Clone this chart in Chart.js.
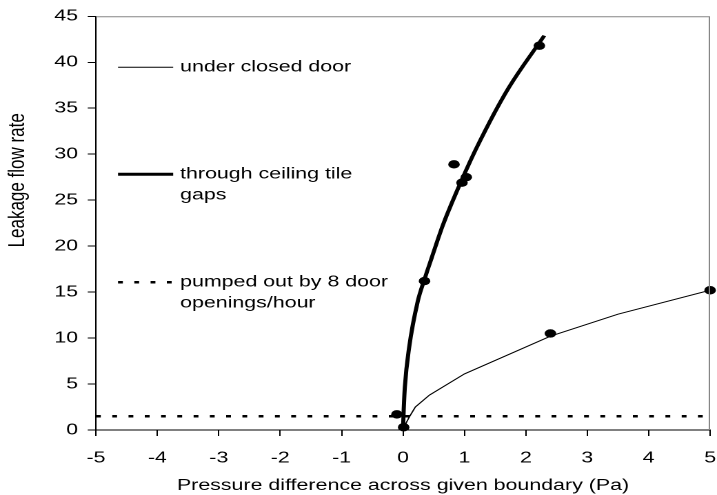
<!DOCTYPE html>
<html>
<head>
<meta charset="utf-8">
<script src="https://cdn.jsdelivr.net/npm/chart.js@4"></script>
<style>
  body { margin: 0; background: #fff; }
  #wrap { width: 717px; height: 495px; overflow: hidden; }
  /* the original picture is stretched sideways, so draw narrow and widen */
  #leakChart { transform: scaleX(1.3788); transform-origin: 0 0; }
</style>
</head>
<body>
<div id="wrap"><canvas id="leakChart" width="520" height="495"></canvas></div>
<script>
// measured points (Pa, flow)
const measuredX = [-0.1, 0.01, 0.35, 0.83, 0.96, 1.03, 2.22, 2.4, 5];
const measuredY = [1.7, 0.3, 16.2, 28.9, 26.9, 27.5, 41.8, 10.5, 15.2];

// fitted curve, under closed door
const doorX = [0, 0.03, 0.1, 0.2, 0.43, 1, 2.4, 3.5, 5];
const doorY = [0, 0.5, 1.4, 2.5, 3.8, 6.1, 10.2, 12.6, 15.2];

// fitted curve, through ceiling tile gaps
const ceilingX = [0, 0.01, 0.03, 0.1, 0.24, 0.35, 0.46, 0.65, 0.95, 1.22, 1.7, 2.3];
const ceilingY = [0, 2, 4.7, 9.0, 14.0, 16.4, 18.6, 22.3, 27.1, 31.0, 37.0, 42.9];

// pumped out by door openings
const pumpX = [-5, 5];
const pumpY = [1.5, 1.5];

const xTickValues = [-5, -4, -3, -2, -1, 0, 1, 2, 3, 4, 5];
const yTickValues = [0, 5, 10, 15, 20, 25, 30, 35, 40, 45];

const keyLabels = [
  ['under closed door'],
  ['through ceiling tile', 'gaps'],
  ['pumped out by 8 door', 'openings/hour']
];
const yTitle = 'Leakage flow rate';
const xTitle = 'Pressure difference across given boundary (Pa)';

const pts = (xs, ys) => xs.map((x, i) => ({ x: x, y: ys[i] }));
const fontFam = '"Liberation Sans", Arial, sans-serif';
const font = { family: fontFam, size: 15.5 };
const pumpDash = [3.5, 8.3];

// gray frame, key and the y title
const frameAndKey = {
  id: 'frameAndKey',
  afterDraw(chart) {
    const ctx = chart.ctx, a = chart.chartArea;
    ctx.save();
    ctx.strokeStyle = '#868686';
    ctx.lineWidth = 1;
    ctx.beginPath();
    ctx.moveTo(a.left, a.top + 0.5);
    ctx.lineTo(a.right - 0.5, a.top + 0.5);
    ctx.lineTo(a.right - 0.5, a.bottom);
    ctx.stroke();

    const styles = [
      { w: 1, dash: [] },
      { w: 3, dash: [] },
      { w: 2.5, dash: pumpDash }
    ];
    const rowY = [a.top + 51, a.top + 158, a.top + 266];
    const x0 = a.left + 16, x1 = x0 + 40;
    ctx.font = '15.5px ' + fontFam;
    ctx.fillStyle = '#000';
    ctx.strokeStyle = '#000';
    ctx.textBaseline = 'middle';
    keyLabels.forEach((lines, i) => {
      ctx.lineWidth = styles[i].w;
      ctx.setLineDash(styles[i].dash);
      ctx.beginPath();
      ctx.moveTo(x0, rowY[i]);
      ctx.lineTo(x1, rowY[i]);
      ctx.stroke();
      lines.forEach((t, j) => ctx.fillText(t, x1 + 5, rowY[i] + j * 21));
    });
    ctx.setLineDash([]);

    ctx.translate(12.7, a.top + 164);
    ctx.rotate(-Math.PI / 2);
    ctx.textAlign = 'center';
    ctx.font = '17px ' + fontFam;
    ctx.fillText(yTitle, 0, 0);
    ctx.restore();
  }
};

new Chart(document.getElementById('leakChart'), {
  type: 'scatter',
  data: {
    datasets: [
      {
        data: pts(measuredX, measuredY),
        pointRadius: 4.2,
        pointBackgroundColor: '#000',
        pointBorderWidth: 0,
        clip: false
      },
      {
        data: pts(doorX, doorY),
        showLine: true,
        borderColor: '#000',
        borderWidth: 1,
        pointRadius: 0,
        tension: 0
      },
      {
        data: pts(ceilingX, ceilingY),
        showLine: true,
        borderColor: '#000',
        borderWidth: 3,
        pointRadius: 0,
        cubicInterpolationMode: 'monotone'
      },
      {
        data: pts(pumpX, pumpY),
        showLine: true,
        borderColor: '#000',
        borderWidth: 2.5,
        borderDash: pumpDash,
        pointRadius: 0
      }
    ]
  },
  options: {
    responsive: false,
    devicePixelRatio: 2,
    animation: false,
    layout: { padding: { left: 0, right: 5, top: 14, bottom: 0 } },
    plugins: { legend: { display: false }, tooltip: { enabled: false } },
    scales: {
      x: {
        type: 'linear',
        min: -5,
        max: 5,
        afterBuildTicks: s => { s.ticks = xTickValues.map(v => ({ value: v })); },
        afterFit: s => { s.height = 65; s.paddingLeft = 0; s.paddingRight = 0; },
        grid: { drawOnChartArea: false, drawTicks: true, tickLength: 6, color: '#000' },
        border: { color: '#000', width: 1 },
        ticks: { color: '#000', font: font, padding: 13, maxRotation: 0, callback: v => String(v) },
        title: { display: true, text: xTitle, color: '#000', font: font, padding: { top: 0, bottom: 0 } }
      },
      y: {
        type: 'linear',
        min: 0,
        max: 45,
        afterBuildTicks: s => { s.ticks = yTickValues.map(v => ({ value: v })); },
        afterFit: s => { s.width = 69.6; },
        grid: { drawOnChartArea: false, drawTicks: true, tickLength: 6, color: '#000' },
        border: { color: '#000', width: 1 },
        ticks: { color: '#000', font: font, padding: 7, callback: v => String(v) }
      }
    }
  },
  plugins: [frameAndKey]
});
</script>
</body>
</html>
